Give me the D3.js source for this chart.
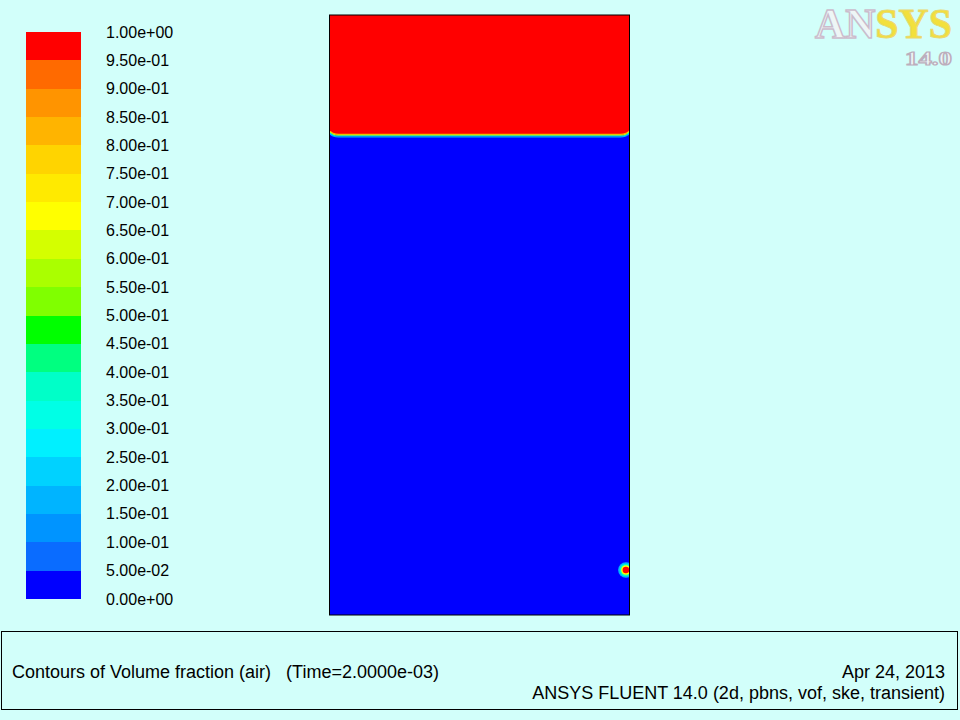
<!DOCTYPE html>
<html><head><meta charset="utf-8">
<script src="https://cdn.jsdelivr.net/npm/d3@7"></script>
<style>html,body{margin:0;padding:0;background:#d2fffa;}svg{display:block;}</style>
</head><body>
<svg id="c" width="960" height="720"></svg>
<script>
// ---- data ----
const levels = [0,0.05,0.1,0.15,0.2,0.25,0.3,0.35,0.4,0.45,0.5,0.55,0.6,0.65,0.7,0.75,0.8,0.85,0.9,0.95,1.0];
const bandColors = ["#0000ff","#0a6cff","#0094ff","#00b4ff","#00d2ff","#00f0ff","#00ffe6","#00ffc8","#00ff80","#00ff00",
                    "#80ff00","#aaff00","#d4ff00","#ffff00","#ffea00","#ffd400","#ffb400","#ff9400","#ff6a00","#ff0000"];
// domain (m) : width 1, height 2 (normalised)
const domainX = [0, 1];
const domainY = [0, 2];
// free-surface (air/water interface) height along width
const interfaceX = [0, 0.004, 0.012, 0.03, 0.5, 0.97, 0.988, 0.996, 1];
const interfaceH = [1.608, 1.606, 1.601, 1.598, 1.598, 1.598, 1.601, 1.606, 1.609];
// thin transition layer: offset from surface (m) and volume fraction
const transOffset = [0.0045, 0.0015, -0.0015, -0.0045];
const transValue  = [0.82, 0.62, 0.38, 0.17];
// small air bubble at right wall
const bubbleX = 0.988, bubbleY = 0.15;
const bubbleR = [0.026, 0.021, 0.016, 0.011];
const bubbleV = [0.17, 0.38, 0.68, 0.98];
const titleText = "Contours of Volume fraction (air)   (Time=2.0000e-03)";
const dateText = "Apr 24, 2013";
const infoText = "ANSYS FLUENT 14.0 (2d, pbns, vof, ske, transient)";

// ---- drawing ----
const svg = d3.select("#c");
const color = d3.scaleThreshold().domain(levels.slice(1, -1)).range(bandColors);
const fmt = v => { const s = v.toExponential(2); return s.replace(/e([+-])(\d)$/, "e$10$2"); };

svg.append("rect").attr("width", 960).attr("height", 720).attr("fill", "#d2fffa");

// legend
const yL = d3.scaleLinear().domain([0, 1]).range([599, 32]);
const lg = svg.append("g");
lg.selectAll("rect").data(bandColors).join("rect")
  .attr("x", 26).attr("width", 55)
  .attr("y", (d, i) => yL(levels[i + 1]))
  .attr("height", (d, i) => yL(levels[i]) - yL(levels[i + 1]))
  .attr("fill", d => d).attr("shape-rendering", "crispEdges");
lg.selectAll("text").data(levels).join("text")
  .attr("x", 106).attr("y", d => yL(d) + 5.5)
  .attr("font-family", "Liberation Sans, Arial, sans-serif").attr("font-size", 16)
  .attr("fill", "#000").text(fmt);

// domain
const x = d3.scaleLinear().domain(domainX).range([329.5, 629.5]);
const y = d3.scaleLinear().domain(domainY).range([615, 15]);
svg.append("clipPath").attr("id", "dom").append("rect")
  .attr("x", x(0)).attr("y", y(2)).attr("width", x(1) - x(0)).attr("height", y(0) - y(2));
const dg = svg.append("g").attr("clip-path", "url(#dom)");
dg.append("rect").attr("x", x(0)).attr("y", y(2)).attr("width", x(1) - x(0)).attr("height", y(0) - y(2))
  .attr("fill", color(0.01));
const pts = interfaceX.map((v, i) => [v, interfaceH[i]]);
dg.append("path").datum(pts)
  .attr("d", d3.area().x(d => x(d[0])).y0(y(2)).y1(d => y(d[1])).curve(d3.curveMonotoneX))
  .attr("fill", color(0.99));
transOffset.forEach((off, k) => {
  dg.append("path").datum(pts)
    .attr("d", d3.line().x(d => x(d[0])).y(d => y(d[1] + off)).curve(d3.curveMonotoneX))
    .attr("fill", "none").attr("stroke", color(transValue[k])).attr("stroke-width", 1.1);
});
bubbleR.forEach((r, k) => {
  dg.append("ellipse").attr("cx", x(bubbleX)).attr("cy", y(bubbleY))
    .attr("rx", x(r) - x(0)).attr("ry", y(0) - y(r))
    .attr("fill", color(bubbleV[k]));
});
svg.append("rect").attr("x", x(0)).attr("y", y(2)).attr("width", x(1) - x(0)).attr("height", y(0) - y(2))
  .attr("fill", "none").attr("stroke", "#000").attr("stroke-width", 1);

// logo
const logo = svg.append("text").attr("x", 815).attr("y", 38)
  .attr("font-family", "Liberation Serif, Times New Roman, serif").attr("font-size", 42).attr("font-weight", "bold")
  .attr("textLength", 137).attr("lengthAdjust", "spacingAndGlyphs");
logo.append("tspan").text("AN").attr("fill", "#eef6f6").attr("stroke", "#cbbccc").attr("stroke-width", 1.5);
logo.append("tspan").text("SYS").attr("fill", "#f2e03c").attr("stroke", "#e8d870").attr("stroke-width", 1);
svg.append("text").attr("x", 905).attr("y", 65)
  .attr("font-family", "Liberation Serif, Times New Roman, serif").attr("font-size", 19).attr("font-weight", "bold")
  .attr("textLength", 47).attr("lengthAdjust", "spacingAndGlyphs")
  .attr("fill", "#eef6f6").attr("stroke", "#bcaebc").attr("stroke-width", 1.2).text("14.0");

// footer
svg.append("rect").attr("x", 1.5).attr("y", 631.5).attr("width", 956).attr("height", 78)
  .attr("fill", "none").attr("stroke", "#000").attr("stroke-width", 1);
const ft = svg.append("g").attr("font-family", "Liberation Sans, Arial, sans-serif").attr("font-size", 18).attr("fill", "#000");
ft.append("text").attr("x", 12).attr("y", 678).text(titleText).style("white-space", "pre").attr("xml:space", "preserve");
ft.append("text").attr("x", 945).attr("y", 678).attr("text-anchor", "end").text(dateText);
ft.append("text").attr("x", 945).attr("y", 699).attr("text-anchor", "end").text(infoText);
</script>
</body></html>
